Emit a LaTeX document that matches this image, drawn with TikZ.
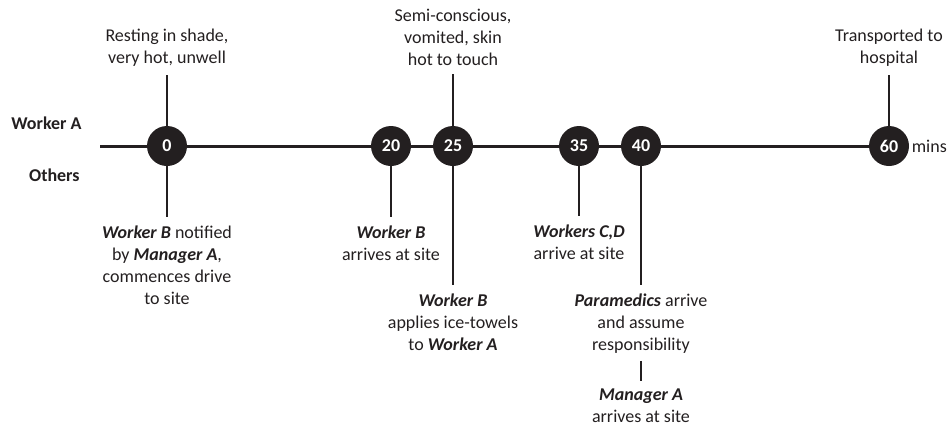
\documentclass[tikz,border=0pt]{standalone}
\usepackage{fontspec}
\setmainfont{Carlito}
\usetikzlibrary{positioning,backgrounds}
\definecolor{ink}{HTML}{231F20}
\newcommand{\who}[1]{\textbf{\textit{#1}}}

\begin{document}
\begin{tikzpicture}[x=0.5pt,y=-0.5pt,
        every node/.style={font=\fontsize{9}{11}\selectfont, text=ink},
        tick/.style={circle, fill=ink, minimum size=20pt, inner sep=0pt,
            text=white, font=\fontsize{9}{11}\selectfont\bfseries},
        lbl/.style={align=center, inner sep=0pt, outer sep=4pt},
        row/.style={anchor=east, inner sep=0pt, font=\fontsize{9}{11}\selectfont\bfseries},
        axis/.style={draw=ink, line width=1.5pt},
        stem/.style={draw=ink, line width=1pt}]
    \useasboundingbox (0,0) rectangle (948,425);
    % time marks
    \node[tick] (t0) at (167,146) {0};
    \node[tick] (t20) at (391,146) {20};
    \node[tick] (t25) at (453,146) {25};
    \node[tick] (t35) at (579,146) {35};
    \node[tick] (t40) at (641,146) {40};
    \node[tick] (t60) at (889,146) {60};
    \node[right=1pt of t60, inner sep=0pt] (mins) {mins};
    \coordinate (start) at (100,146);
    \node[row] (workerA) at (82,123) {Worker A};
    \node[row] (others) at (80,175) {Others};
    % worker A
    \node[lbl, above=25.5pt of t0] (rest) {Resting in shade,\\very hot, unwell};
    \node[lbl, above=26pt of t25] (semi) {Semi-conscious,\\vomited, skin\\hot to touch};
    \node[lbl, above=25.5pt of t60] (hosp) {Transported to\\hospital};
    % others
    \node[lbl, below=25.5pt of t0] (notify) {\who{Worker B} notified\\by \who{Manager A},\\commences drive\\to site};
    \node[lbl, below=25.5pt of t20] (arriveB) {\who{Worker B}\\arrives at site};
    \node[lbl, below=59.5pt of t25] (ice) {\who{Worker B}\\applies ice-towels\\to \who{Worker A}};
    \node[lbl, below=25pt of t35] (arriveCD) {\who{Workers C,D}\\arrive at site};
    \node[lbl, below=59.5pt of t40] (para) {\who{Paramedics} arrive\\and assume\\responsibility};
    \node[lbl, below=10pt of para] (mgr) {\who{Manager A}\\arrives at site};
    \draw[stem] (t0) -- (rest);
    \draw[stem] (t25) -- (semi);
    \draw[stem] (t60) -- (hosp);
    \draw[stem] (t0) -- (notify);
    \draw[stem] (t20) -- (arriveB);
    \draw[stem] (t25) -- (ice);
    \draw[stem] (t35) -- (arriveCD);
    \draw[stem] (t40) -- (para);
    \draw[stem] (para) -- (mgr);
    \begin{scope}[on background layer]
        \draw[axis] (start) -- (t60);
    \end{scope}
\end{tikzpicture}
\end{document}
